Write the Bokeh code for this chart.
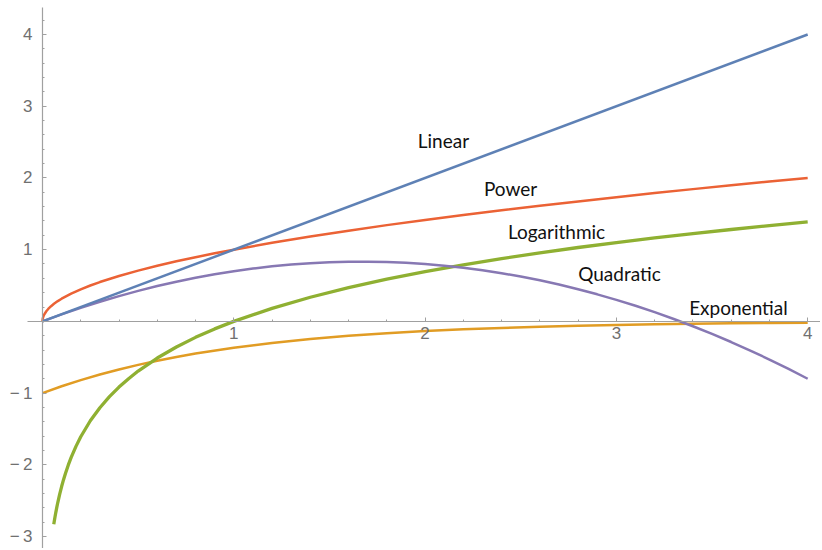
from bokeh.plotting import figure
from bokeh.models import Range1d, LinearAxis, FixedTicker, ColumnDataSource
from bokeh.core.properties import value
from bokeh.embed import file_html
from bokeh.resources import INLINE

# ---- data ----
linear_x = [0.0, 4.0]
linear_y = [0.0, 4.0]

power_x = [0, 0.001, 0.003, 0.006, 0.01, 0.02, 0.03, 0.045, 0.06, 0.08, 0.1, 0.15, 0.2, 0.25,
           0.3, 0.4, 0.5, 0.6, 0.7, 0.8, 0.9, 1.0, 1.2, 1.4, 1.6, 1.8, 2.0, 2.2, 2.4, 2.6,
           2.8, 3.0, 3.2, 3.4, 3.6, 3.8, 4.0]
power_y = [0, 0.032, 0.055, 0.077, 0.1, 0.141, 0.173, 0.212, 0.245, 0.283, 0.316, 0.387,
           0.447, 0.5, 0.548, 0.632, 0.707, 0.775, 0.837, 0.894, 0.949, 1.0, 1.095, 1.183,
           1.265, 1.342, 1.414, 1.483, 1.549, 1.612, 1.673, 1.732, 1.789, 1.844, 1.897,
           1.949, 2.0]

log_x = [0.059, 0.062, 0.066, 0.07, 0.075, 0.08, 0.09, 0.1, 0.11, 0.12, 0.135, 0.15, 0.175,
         0.2, 0.25, 0.3, 0.35, 0.4, 0.45, 0.5, 0.6, 0.7, 0.8, 0.9, 1.0, 1.2, 1.4, 1.6, 1.8,
         2.0, 2.2, 2.4, 2.6, 2.8, 3.0, 3.2, 3.4, 3.6, 3.8, 4.0]
log_y = [-2.83, -2.781, -2.718, -2.659, -2.59, -2.526, -2.408, -2.303, -2.207, -2.12, -2.002,
         -1.897, -1.743, -1.609, -1.386, -1.204, -1.05, -0.916, -0.799, -0.693, -0.511,
         -0.357, -0.223, -0.105, 0.0, 0.182, 0.336, 0.47, 0.588, 0.693, 0.788, 0.875, 0.956,
         1.03, 1.099, 1.163, 1.224, 1.281, 1.335, 1.386]

quad_x = [0, 0.1, 0.2, 0.3, 0.4, 0.5, 0.6, 0.7, 0.8, 0.9, 1.0, 1.1, 1.2, 1.3, 1.4, 1.5, 1.6,
          1.7, 1.8, 1.9, 2.0, 2.1, 2.2, 2.3, 2.4, 2.5, 2.6, 2.7, 2.8, 2.9, 3.0, 3.1, 3.2,
          3.3, 3.4, 3.5, 3.6, 3.7, 3.8, 3.9, 4.0]
quad_y = [0, 0.097, 0.188, 0.273, 0.352, 0.425, 0.492, 0.553, 0.608, 0.657, 0.7, 0.737,
          0.768, 0.793, 0.812, 0.825, 0.832, 0.833, 0.828, 0.817, 0.8, 0.777, 0.748, 0.713,
          0.672, 0.625, 0.572, 0.513, 0.448, 0.377, 0.3, 0.217, 0.128, 0.033, -0.068,
          -0.175, -0.288, -0.407, -0.532, -0.663, -0.8]

exp_x = [0, 0.1, 0.2, 0.3, 0.4, 0.5, 0.6, 0.7, 0.8, 1.0, 1.2, 1.4, 1.6, 1.8, 2.0, 2.2, 2.4,
         2.6, 2.8, 3.0, 3.2, 3.4, 3.6, 3.8, 4.0]
exp_y = [-1.0, -0.905, -0.819, -0.741, -0.67, -0.607, -0.549, -0.497, -0.449, -0.368, -0.301,
         -0.247, -0.202, -0.165, -0.135, -0.111, -0.091, -0.074, -0.061, -0.05, -0.041,
         -0.033, -0.027, -0.022, -0.018]

label_text = ["Linear", "Power", "Logarithmic", "Quadratic", "Exponential"]
label_x = [2.096, 2.447, 2.687, 3.016, 3.638]
label_y = [2.52, 1.855, 1.255, 0.67, 0.195]

x_major = [1, 2, 3, 4]
y_major = [-3, -2, -1, 1, 2, 3, 4]

# ---- figure ----
p = figure(width=820, height=548, output_backend="svg", toolbar_location=None,
           x_range=Range1d(-0.2195, 4.067), y_range=Range1d(-3.167, 4.474),
           x_axis_type=None, y_axis_type=None, min_border=0)
p.outline_line_color = None
p.xgrid.visible = False
p.ygrid.visible = False
p.background_fill_color = "white"

axis_col = "#a0a0a0"
lab_col = "#707070"

xaxis = LinearAxis(fixed_location=0, bounds=(-0.08, 4.08))
xaxis.ticker = FixedTicker(ticks=x_major,
                           minor_ticks=[round(0.2 * i, 1) for i in range(1, 21) if i % 5 != 0])
xaxis.major_label_overrides = {t: str(t) for t in x_major}
yaxis = LinearAxis(fixed_location=0, bounds=(-3.3, 4.38))
yaxis.ticker = FixedTicker(ticks=y_major,
                           minor_ticks=[round(0.2 * i, 1) for i in range(-16, 22) if i % 5 != 0])
yaxis.major_label_overrides = {t: (("\u2212\u2009" + str(-t)) if t < 0 else str(t))
                               for t in y_major}

for ax in (xaxis, yaxis):
    ax.axis_line_color = axis_col
    ax.axis_line_width = 1.2
    ax.major_tick_line_color = axis_col
    ax.minor_tick_line_color = axis_col
    ax.major_tick_in = 4
    ax.major_tick_out = 0
    ax.minor_tick_in = 2
    ax.minor_tick_out = 0
    ax.major_label_text_color = lab_col
    ax.major_label_text_font = "Liberation Sans"
    ax.major_label_text_font_size = "17px"
xaxis.major_label_standoff = 6
yaxis.major_label_standoff = 10

p.add_layout(xaxis, "below")
p.add_layout(yaxis, "left")

p.line(exp_x, exp_y, line_color="#E19C24", line_width=2.5)
p.line(log_x, log_y, line_color="#8FB032", line_width=3.3)
p.line(quad_x, quad_y, line_color="#8778B3", line_width=2.5)
p.line(power_x, power_y, line_color="#EB6235", line_width=2.5)
p.line(linear_x, linear_y, line_color="#5E81B5", line_width=2.5)

src = ColumnDataSource(dict(x=label_x, y=label_y, t=label_text))
p.text(x="x", y="y", text="t", source=src, text_font=value("Lato"),
       text_font_size="19px", text_align="center", text_baseline="middle",
       text_color="#111111")

open("out.html", "w").write(file_html(p, INLINE))
